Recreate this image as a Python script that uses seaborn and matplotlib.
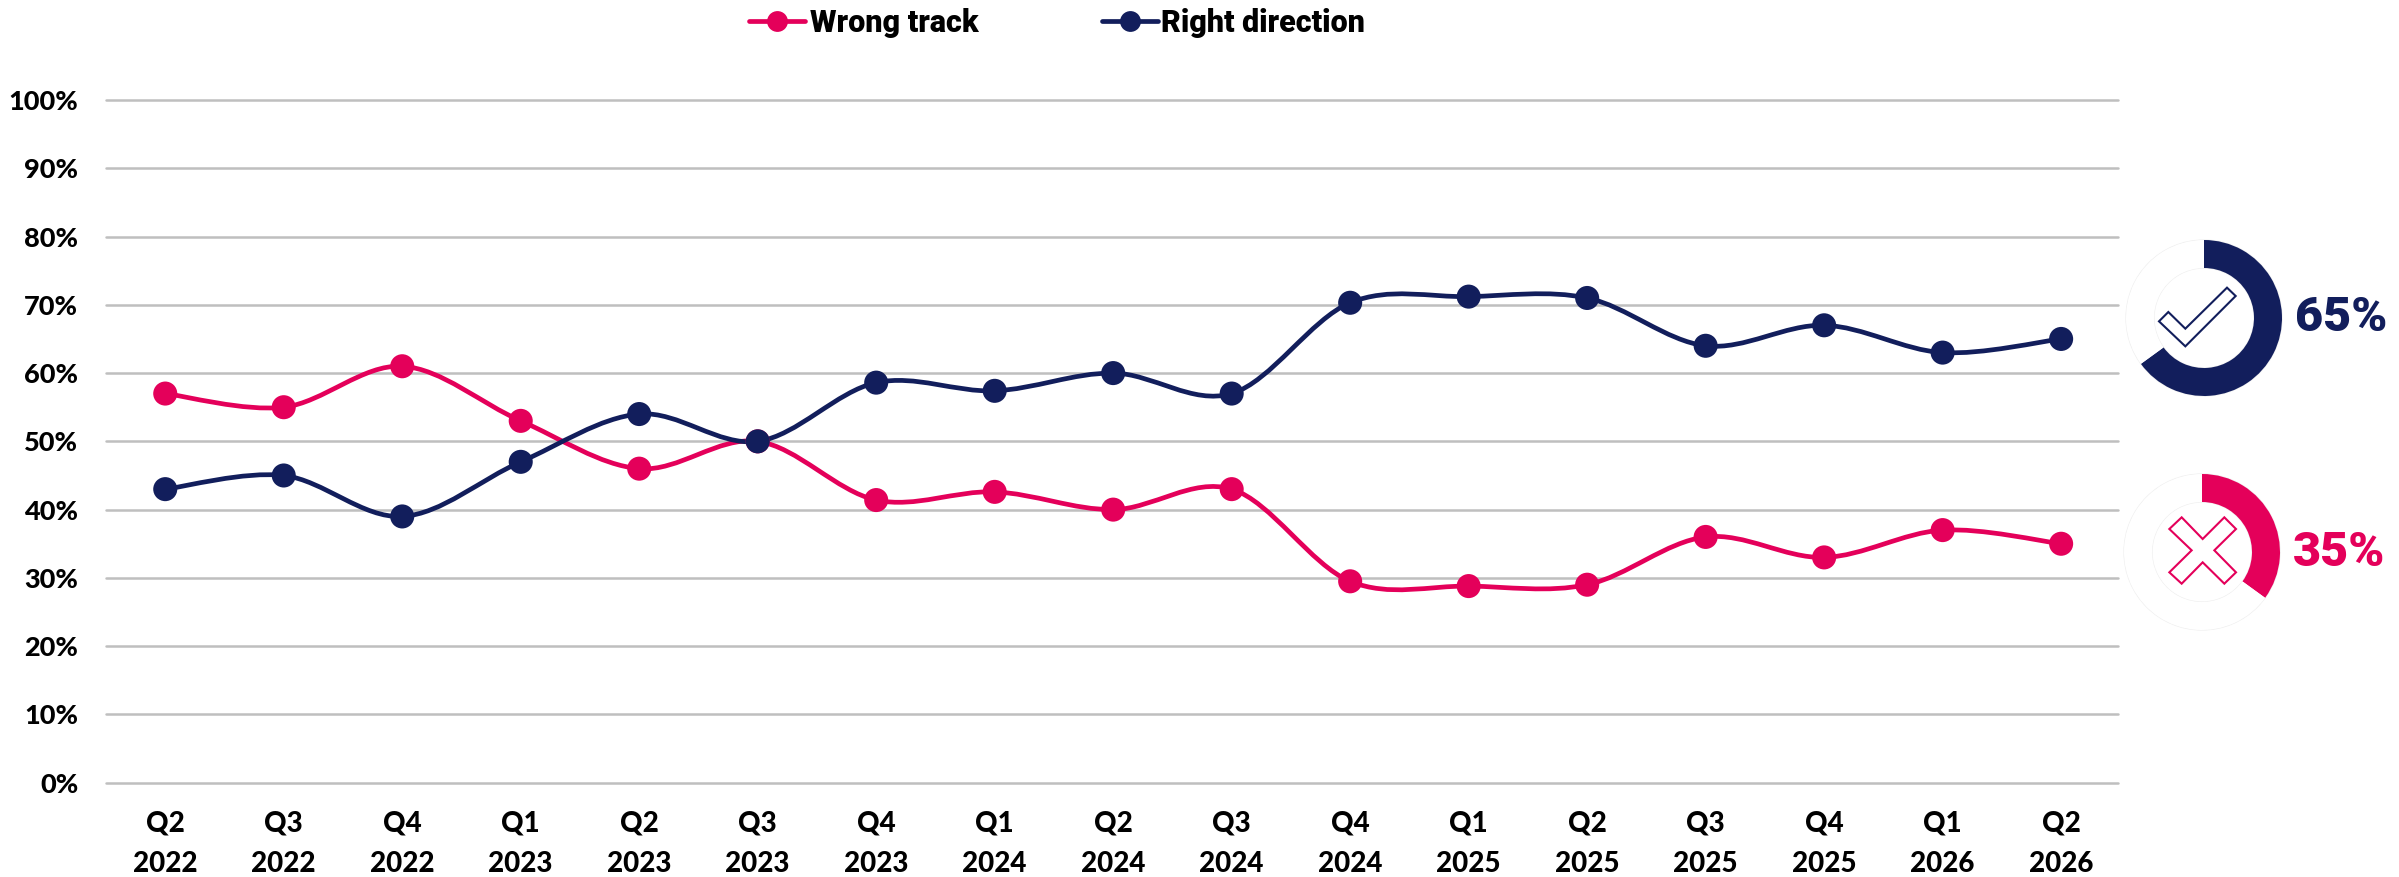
import numpy as np
import pandas as pd
import matplotlib
matplotlib.use("Agg")
import matplotlib.pyplot as plt
from matplotlib.lines import Line2D
from matplotlib.path import Path
from matplotlib.patches import PathPatch, Circle, Polygon
import seaborn as sns

#chart data
quarters = ['Q2', 'Q3', 'Q4', 'Q1', 'Q2', 'Q3', 'Q4', 'Q1', 'Q2', 'Q3', 'Q4', 'Q1', 'Q2', 'Q3', 'Q4', 'Q1', 'Q2']
years = ['2022', '2022', '2022', '2023', '2023', '2023', '2023', '2024', '2024', '2024', '2024', '2025', '2025', '2025', '2025', '2026', '2026']
wrong_track = [57, 55, 61, 53, 46, 50, 41.4, 42.6, 40, 43, 29.5, 28.8, 29, 36, 33, 37, 35]
right_direction = [43, 45, 39, 47, 54, 50, 58.6, 57.4, 60, 57, 70.3, 71.2, 71, 64, 67, 63, 65]
y_ticks = [0, 10, 20, 30, 40, 50, 60, 70, 80, 90, 100]
latest_right = 65
latest_wrong = 35

PINK = '#e4005a'
NAVY = '#121e5c'
W, H = 2399, 877

sns.set_theme(style='white')
plt.rcParams['font.family'] = ['Lato', 'DejaVu Sans']


def px_axes(x0, y0, x1, y1):
    #rectangle given in image pixels, y from the top
    return fig.add_axes([x0 / W, 1 - y1 / H, (x1 - x0) / W, (y1 - y0) / H])


def smooth_line(ax, values, color):
    #spreadsheet style smoothed line, bezier handles from the neighbours
    x = np.arange(len(values), dtype=float)
    y = np.array(values, dtype=float)
    verts = [(x[0], y[0])]
    codes = [Path.MOVETO]
    for i in range(len(x) - 1):
        a = max(i - 1, 0)
        b = min(i + 2, len(x) - 1)
        verts.append((x[i] + (x[i + 1] - x[a]) / 6, y[i] + (y[i + 1] - y[a]) / 6))
        verts.append((x[i + 1] - (x[b] - x[i]) / 6, y[i + 1] - (y[b] - y[i]) / 6))
        verts.append((x[i + 1], y[i + 1]))
        codes += [Path.CURVE4, Path.CURVE4, Path.CURVE4]
    ax.add_patch(PathPatch(Path(verts, codes), fill=False, edgecolor=color, lw=3.4, zorder=3))


def donut(box, value, color, icon):
    cx, cy = box
    ax_d = px_axes(cx - 82, cy - 82, cx + 82, cy + 82)
    ax_d.pie([value, 100 - value], colors=[color, 'white'], startangle=90, counterclock=False,
             radius=78, wedgeprops={'width': 28, 'linewidth': 0})
    ax_d.add_patch(Circle((0, 0), 78, fill=False, edgecolor='#efefef', lw=0.9, zorder=0))
    ax_d.add_patch(Circle((0, 0), 50, fill=False, edgecolor='#efefef', lw=0.9, zorder=0))
    ax_d.add_patch(Polygon(icon, closed=True, fill=False, edgecolor=color, lw=1.5, joinstyle='miter'))
    ax_d.set_xlim(-82, 82)
    ax_d.set_ylim(-82, 82)
    ax_d.set_aspect('equal')
    ax_d.axis('off')


fig = plt.figure(figsize=(W / 100, H / 100), dpi=100, facecolor='white')
ax = px_axes(106, 100, 2118, 782.7)

df = pd.DataFrame({
    'pos': list(range(len(quarters))) * 2,
    'value': wrong_track + right_direction,
    'series': ['Wrong track'] * len(quarters) + ['Right direction'] * len(quarters),
})

smooth_line(ax, wrong_track, PINK)
smooth_line(ax, right_direction, NAVY)
sns.scatterplot(data=df, x='pos', y='value', hue='series', palette={'Wrong track': PINK, 'Right direction': NAVY},
                s=300, linewidth=0, legend=False, ax=ax, zorder=4, clip_on=False)

ax.set_xlim(-0.5, len(quarters) - 0.52)
ax.set_ylim(0, 100)
ax.set_xlabel('')
ax.set_ylabel('')
ax.set_yticks(y_ticks)
ax.set_yticklabels([f'{v}%' for v in y_ticks], fontsize=19.5, fontweight='black', color='black')
ax.set_xticks(range(len(quarters)))
ax.set_xticklabels([f'{q}\n{y}' for q, y in zip(quarters, years)], fontsize=20, fontweight='black',
                   color='black', linespacing=1.69)
ax.tick_params(axis='y', length=0, pad=20)
ax.tick_params(axis='x', length=0, pad=20)
ax.yaxis.grid(True, color='#bfbfbf', lw=1.8, clip_on=False)
ax.set_axisbelow(True)
for s in ax.spines.values():
    s.set_visible(False)

#legend on top of the plot
for x_line, label, color, x_text in [(749, 'Wrong track', PINK, 810), (1102, 'Right direction', NAVY, 1161)]:
    fig.add_artist(Line2D([x_line / W, (x_line + 56) / W], [1 - 21 / H] * 2, color=color, lw=3.4))
    fig.add_artist(Line2D([(x_line + 28) / W], [1 - 21 / H], color=color, marker='o', markersize=15, lw=0,
                          markeredgewidth=0))
    fig.text(x_text / W, 1 - 23 / H, label, fontsize=22, fontweight='black', color='black', va='center',
             family=['Roboto', 'DejaVu Sans'])

#donuts at the right side
check = [(-135, -10), (-107, 18), (-56, -32), (69, 91), (95, 66), (-56, -85)]
cross = [(-98, 69), (-61, 104), (2, 39), (67, 104), (102, 69), (37, 5), (102, -61), (67, -95),
         (2, -31), (-61, -95), (-98, -61), (-31, 5)]
donut((2204, 318), latest_right, NAVY, [(a / 3, b / 3) for a, b in check])
donut((2202, 552), latest_wrong, PINK, [(a / 3, b / 3) for a, b in cross])

fig.text(2295 / W, 1 - 318 / H, f'{latest_right}%', fontsize=35, fontweight='black', color=NAVY, va='center',
         family=['Roboto', 'DejaVu Sans'])
fig.text(2293 / W, 1 - 553 / H, f'{latest_wrong}%', fontsize=35, fontweight='black', color=PINK, va='center',
         family=['Roboto', 'DejaVu Sans'])

fig.savefig('out.png', dpi=100, facecolor='white')
